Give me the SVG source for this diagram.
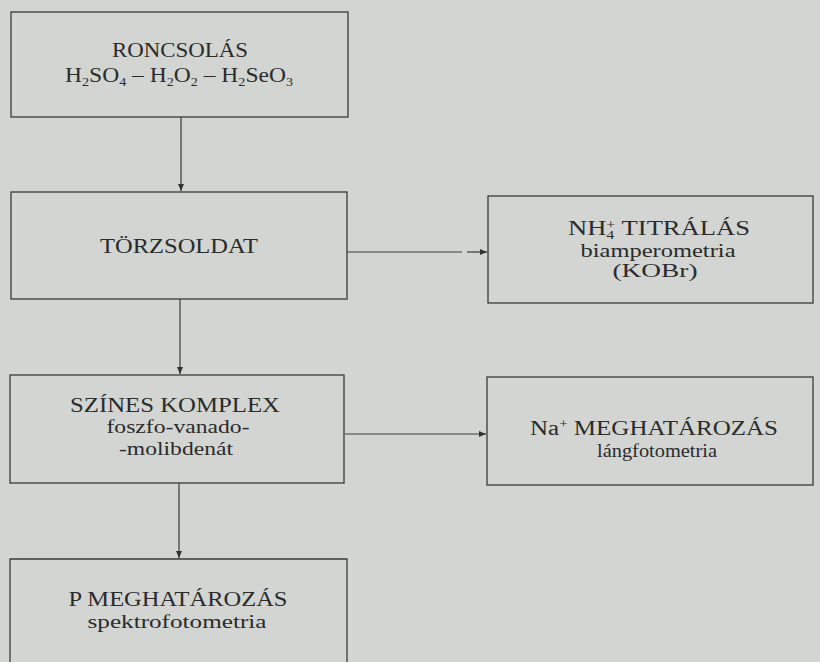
<svg xmlns="http://www.w3.org/2000/svg" width="820" height="662" viewBox="0 0 820 662">
<style>
.box{fill:none;stroke:#3a3a3a;stroke-width:1.3}
.t{font-family:"Liberation Serif","Times New Roman",serif;font-size:20px;fill:#2b2b2b;text-anchor:middle}
.l{font-size:18px}
.s{font-size:12px}
.ln{stroke:#3a3a3a;stroke-width:1.2;fill:none}
</style>
<defs>
<marker id="ah" markerWidth="8" markerHeight="8" refX="7" refY="4" orient="auto" markerUnits="userSpaceOnUse">
<path d="M0,1 L7,4 L0,7 Z" fill="#333"/>
</marker>
</defs>
<rect width="820" height="662" fill="#d2d5d2"/>
<g id="n1">
<rect class="box" x="11" y="12" width="337" height="105"/>
<text class="t" x="180" y="57" textLength="136" lengthAdjust="spacingAndGlyphs">RONCSOLÁS</text>
<text class="t" x="179" y="82" textLength="228" lengthAdjust="spacingAndGlyphs">H<tspan class="s" dy="4">2</tspan><tspan dy="-4">SO</tspan><tspan class="s" dy="4">4</tspan><tspan dy="-4"> – H</tspan><tspan class="s" dy="4">2</tspan><tspan dy="-4">O</tspan><tspan class="s" dy="4">2</tspan><tspan dy="-4"> – H</tspan><tspan class="s" dy="4">2</tspan><tspan dy="-4">SeO</tspan><tspan class="s" dy="4">3</tspan></text>
</g>
<g id="n2">
<rect class="box" x="11" y="192" width="336" height="107"/>
<text class="t" x="179" y="253" textLength="158" lengthAdjust="spacingAndGlyphs">TÖRZSOLDAT</text>
</g>
<g id="n3">
<rect class="box" x="488" y="196" width="325" height="107"/>
<text class="t" x="659" y="235" textLength="182" lengthAdjust="spacingAndGlyphs">NH<tspan class="s" dy="4">4</tspan><tspan class="s" dx="-6" dy="-10">+</tspan><tspan dy="6">  TITRÁLÁS</tspan></text>
<text class="t l" x="658" y="257" textLength="155" lengthAdjust="spacingAndGlyphs">biamperometria</text>
<text class="t l" x="655" y="277" textLength="85" lengthAdjust="spacingAndGlyphs">(KOBr)</text>
</g>
<g id="n4">
<rect class="box" x="10" y="375" width="334" height="108"/>
<text class="t" x="175" y="412" textLength="210" lengthAdjust="spacingAndGlyphs">SZÍNES KOMPLEX</text>
<text class="t l" x="178" y="433" textLength="143" lengthAdjust="spacingAndGlyphs">foszfo-vanado-</text>
<text class="t l" x="176" y="455" textLength="114" lengthAdjust="spacingAndGlyphs">-molibdenát</text>
</g>
<g id="n5">
<rect class="box" x="487" y="377" width="326" height="108"/>
<text class="t" x="654" y="435" textLength="248" lengthAdjust="spacingAndGlyphs">Na<tspan class="s" dy="-7">+</tspan><tspan dy="7"> MEGHATÁROZÁS</tspan></text>
<text class="t l" x="657" y="457" textLength="120" lengthAdjust="spacingAndGlyphs">lángfotometria</text>
</g>
<g id="n6">
<path class="box" d="M10,670 V559 H347 V670"/>
<text class="t" x="178" y="606" textLength="219" lengthAdjust="spacingAndGlyphs">P MEGHATÁROZÁS</text>
<text class="t l" x="177" y="628" textLength="179" lengthAdjust="spacingAndGlyphs">spektrofotometria</text>
</g>
<g id="connectors">
<line class="ln" x1="181" y1="117" x2="181" y2="191" marker-end="url(#ah)"/>
<line class="ln" x1="180" y1="299" x2="180" y2="374" marker-end="url(#ah)"/>
<line class="ln" x1="179" y1="483" x2="179" y2="558" marker-end="url(#ah)"/>
<line class="ln" x1="347" y1="252" x2="462" y2="252"/>
<line class="ln" x1="467" y1="252" x2="487" y2="252" marker-end="url(#ah)"/>
<line class="ln" x1="345" y1="434" x2="486" y2="434" marker-end="url(#ah)"/>
</g>
</svg>
